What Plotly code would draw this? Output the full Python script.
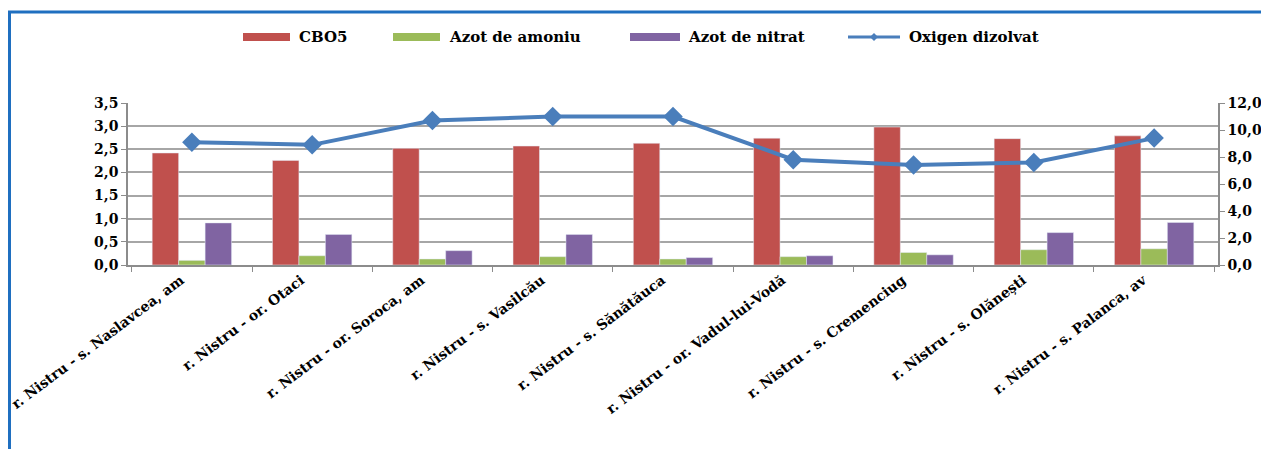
import plotly.graph_objects as go

# statii de monitorizare pe r. Nistru
stations = [
    "r. Nistru - s. Naslavcea, am",
    "r. Nistru - or. Otaci",
    "r. Nistru - or. Soroca, am",
    "r. Nistru - s. Vasilcău",
    "r. Nistru - s. Sănătăuca",
    "r. Nistru - or. Vadul-lui-Vodă",
    "r. Nistru - s. Cremenciug",
    "r. Nistru - s. Olănești",
    "r. Nistru - s. Palanca, av",
]

cbo5 = [2.42, 2.26, 2.52, 2.57, 2.63, 2.74, 2.98, 2.73, 2.79]
azot_amoniu = [0.10, 0.20, 0.13, 0.18, 0.13, 0.18, 0.27, 0.33, 0.35]
azot_nitrat = [0.91, 0.66, 0.31, 0.66, 0.16, 0.20, 0.22, 0.70, 0.92]
oxigen = [9.1, 8.9, 10.7, 11.0, 11.0, 7.8, 7.4, 7.6, 9.4]

series_names = ["CBO5", "Azot de amoniu", "Azot de nitrat", "Oxigen dizolvat"]
series_colors = ["#C0504D", "#9BBB59", "#8064A2", "#4A7EBB"]

left_ticks = [0, 0.5, 1.0, 1.5, 2.0, 2.5, 3.0, 3.5]
right_ticks = [0, 2, 4, 6, 8, 10, 12]

font_family = "DejaVu Serif"
tick_font = dict(family=font_family, size=14, color="black", weight="bold")
axis_gray = "#8C8C8C"

fig = go.Figure()
for name, vals, col in zip(series_names[:3], [cbo5, azot_amoniu, azot_nitrat], series_colors[:3]):
    fig.add_trace(go.Bar(x=stations, y=vals, name=name, marker_color=col))
fig.add_trace(go.Scatter(x=stations, y=oxigen, name=series_names[3], yaxis="y2",
                         mode="lines+markers",
                         line=dict(color=series_colors[3], width=4),
                         marker=dict(symbol="diamond", size=15, color=series_colors[3])))

W, H = 1269, 449
off = 8  # page body margin
ml, mr, mt, mb = 120, 59, 95, 192
pw, ph = W - ml - mr, H - mt - mb

def px_x(v):
    return (v - off - ml) / pw

def px_y(v):
    return (H - mb - (v - off)) / ph

# outer frame (only top and left edges are visible in the original)
shapes = [
    dict(type="line", xref="paper", yref="paper", x0=px_x(8), x1=px_x(1290),
         y0=px_y(12), y1=px_y(12), line=dict(color="#1F6FC0", width=3)),
    dict(type="line", xref="paper", yref="paper", x0=px_x(9), x1=px_x(9),
         y0=px_y(11), y1=px_y(460), line=dict(color="#1F6FC0", width=4)),
]

# legend drawn by hand so the swatches are wide bars like the original
annotations = []
sw_start = [243, 393, 630, 848]
sw_end = [290, 440, 680, 900]
txt_start = [297, 447, 686, 907]
ly = 37
for i, (name, col) in enumerate(zip(series_names, series_colors)):
    if i < 3:
        shapes.append(dict(type="rect", xref="paper", yref="paper",
                           x0=px_x(sw_start[i]), x1=px_x(sw_end[i]),
                           y0=px_y(ly + 4), y1=px_y(ly - 4),
                           fillcolor=col, line=dict(width=0)))
    else:
        shapes.append(dict(type="line", xref="paper", yref="paper",
                           x0=px_x(sw_start[i]), x1=px_x(sw_end[i]),
                           y0=px_y(ly), y1=px_y(ly), line=dict(color=col, width=3)))
        cx = (sw_start[i] + sw_end[i]) / 2
        d = 4
        shapes.append(dict(type="path", xref="paper", yref="paper",
                           path=f"M {px_x(cx - d)} {px_y(ly)} L {px_x(cx)} {px_y(ly - d)} "
                                f"L {px_x(cx + d)} {px_y(ly)} L {px_x(cx)} {px_y(ly + d)} Z",
                           fillcolor=col, line=dict(width=0)))
    annotations.append(dict(xref="paper", yref="paper", x=px_x(txt_start[i]), y=px_y(ly),
                            xanchor="left", yanchor="middle", showarrow=False, text=name,
                            font=dict(family=font_family, size=15, color="black", weight="bold")))

fig.update_layout(
    width=W, height=H,
    margin=dict(l=ml, r=mr, t=mt, b=mb, autoexpand=False),
    paper_bgcolor="white", plot_bgcolor="white",
    barmode="group", bargap=0.34, bargroupgap=0,
    font=dict(family=font_family, color="black"),
    showlegend=False,
    xaxis=dict(showline=True, linecolor=axis_gray, linewidth=1.5,
               ticks="outside", tickson="boundaries", ticklen=5, tickcolor=axis_gray,
               tickangle=-37, tickfont=tick_font, ticklabelshift=-11,
               showgrid=False, automargin=False),
    yaxis=dict(range=[0, 3.5], tickvals=left_ticks,
               ticktext=[f"{v:.1f}".replace(".", ",") for v in left_ticks],
               showline=True, linecolor=axis_gray, linewidth=1.5,
               ticks="outside", ticklen=5, tickcolor=axis_gray,
               showgrid=True, gridcolor="#A6A6A6", gridwidth=1.5,
               zeroline=False, tickfont=tick_font, automargin=False),
    yaxis2=dict(range=[0, 12], tickvals=right_ticks,
                ticktext=[f"{v:.1f}".replace(".", ",") for v in right_ticks],
                overlaying="y", side="right", showgrid=False, zeroline=False,
                showline=True, linecolor=axis_gray, linewidth=1.5,
                ticks="outside", ticklen=5, tickcolor=axis_gray,
                tickfont=tick_font, automargin=False),
    shapes=shapes,
    annotations=annotations,
)

fig.write_html("out.html")
